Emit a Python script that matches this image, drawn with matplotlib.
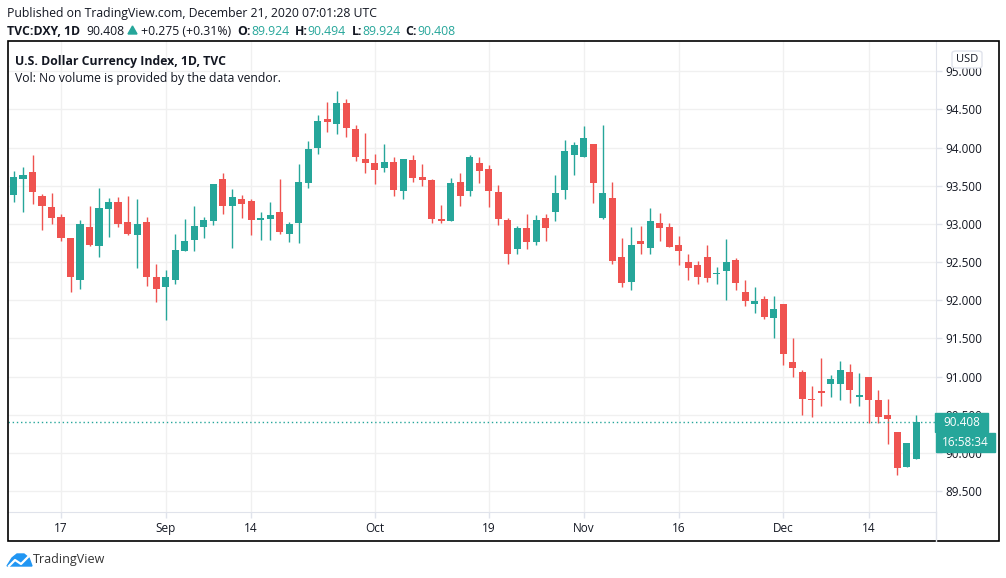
import pandas as pd
import matplotlib
matplotlib.use("Agg")
import matplotlib.pyplot as plt
from matplotlib.patches import Rectangle, FancyBboxPatch, Polygon
from matplotlib.lines import Line2D

# daily DXY candles, Aug 7 .. Dec 21 2020 (weekdays)
dates = pd.bdate_range("2020-08-07", "2020-12-21")

opens = [92.81, 93.38, 93.59, 93.68, 93.36, 93.22, 93.09, 92.82, 92.27, 92.96,
         92.71, 93.19, 93.29, 93.02, 92.85, 93.02, 92.31, 92.18, 92.27, 92.65,
         92.79, 92.96, 93.04, 93.59, 93.23, 93.33, 93.30, 93.05, 93.07, 93.15,
         92.87, 93.01, 93.54, 93.99, 94.37, 94.31, 94.58, 94.24, 93.85, 93.80,
         93.73, 93.81, 93.43, 93.84, 93.62, 93.57, 93.07, 93.04, 93.55, 93.43,
         93.80, 93.72, 93.42, 93.05, 92.67, 92.94, 92.76, 93.08, 93.15, 93.45,
         93.90, 93.88, 94.04, 93.08, 93.34, 92.57, 92.24, 92.77, 92.69, 93.01,
         92.96, 92.73, 92.50, 92.46, 92.57, 92.34, 92.39, 92.53, 92.11, 91.95,
         92.02, 91.77, 91.95, 91.19, 91.06, 90.71, 90.81, 90.90, 90.91, 91.06,
         90.73, 90.99, 90.70, 90.50, 90.28, 89.82, 89.924]
highs = [93.48, 93.69, 93.74, 93.90, 93.39, 93.40, 93.13, 92.82, 93.05, 93.23,
         93.47, 93.34, 93.35, 93.36, 93.33, 93.09, 92.48, 92.40, 92.87, 93.06,
         93.23, 93.09, 93.52, 93.67, 93.46, 93.38, 93.33, 93.15, 93.29, 93.59,
         93.02, 93.79, 94.09, 94.43, 94.60, 94.74, 94.64, 94.30, 94.19, 93.92,
         94.04, 93.88, 93.85, 93.90, 93.79, 93.59, 93.25, 93.60, 93.67, 93.90,
         93.87, 93.77, 93.51, 93.08, 92.97, 93.13, 93.12, 93.13, 93.64, 94.10,
         94.07, 94.28, 94.04, 94.30, 93.55, 92.82, 92.96, 92.97, 93.21, 93.14,
         93.01, 92.84, 92.61, 92.52, 92.73, 92.44, 92.80, 92.56, 92.27, 92.18,
         92.05, 92.06, 91.95, 91.51, 91.09, 90.88, 91.25, 91.02, 91.21, 91.16,
         91.05, 90.99, 90.83, 90.71, 90.28, 90.13, 90.494]
lows = [92.72, 93.29, 93.16, 93.26, 92.92, 93.00, 92.77, 92.11, 92.15, 92.71,
        92.57, 92.83, 92.96, 92.85, 92.42, 92.19, 91.98, 91.74, 92.21, 92.65,
        92.65, 92.81, 92.99, 93.13, 92.69, 93.08, 92.86, 92.79, 92.79, 92.87,
        92.76, 92.75, 93.47, 93.92, 94.20, 94.18, 94.14, 93.82, 93.66, 93.52,
        93.68, 93.37, 93.33, 93.55, 93.49, 93.01, 93.01, 93.04, 93.24, 93.36,
        93.53, 93.22, 92.99, 92.47, 92.60, 92.67, 92.73, 92.78, 93.04, 93.33,
        93.64, 93.88, 93.28, 93.07, 92.48, 92.18, 92.13, 92.60, 92.61, 92.77,
        92.70, 92.46, 92.26, 92.21, 92.24, 92.21, 92.01, 92.13, 91.92, 91.84,
        91.75, 91.50, 91.15, 90.99, 90.50, 90.47, 90.61, 90.74, 90.69, 90.66,
        90.61, 90.40, 90.40, 90.12, 89.71, 89.82, 89.924]
closes = [93.39, 93.61, 93.64, 93.42, 93.23, 93.08, 92.82, 92.31, 93.00, 92.72,
          93.21, 93.29, 93.00, 92.87, 93.00, 92.30, 92.15, 92.31, 92.66, 92.78,
          92.97, 93.05, 93.52, 93.24, 93.35, 93.26, 93.05, 93.08, 93.11, 92.90,
          93.00, 93.55, 93.98, 94.35, 94.33, 94.58, 94.26, 93.87, 93.80, 93.71,
          93.81, 93.44, 93.85, 93.60, 93.57, 93.06, 93.04, 93.54, 93.37, 93.87,
          93.69, 93.43, 93.06, 92.60, 92.95, 92.76, 93.05, 92.94, 93.40, 93.95,
          94.03, 94.12, 93.54, 93.40, 92.52, 92.22, 92.73, 92.74, 93.04, 92.95,
          92.70, 92.64, 92.42, 92.31, 92.29, 92.36, 92.50, 92.22, 91.99, 91.99,
          91.78, 91.88, 91.30, 91.11, 90.71, 90.70, 90.79, 90.97, 91.09, 90.82,
          90.76, 90.70, 90.47, 90.44, 89.81, 90.13, 90.408]

tick_dates = ["2020-08-17", "2020-09-01", "2020-09-14", "2020-10-01", "2020-10-19",
              "2020-11-02", "2020-11-16", "2020-12-01", "2020-12-14"]
tick_labels = ["17", "Sep", "14", "Oct", "19", "Nov", "16", "Dec", "14"]
price_ticks = [89.5, 90.0, 90.5, 91.0, 91.5, 92.0, 92.5, 93.0, 93.5, 94.0, 94.5, 95.0]

last_price = 90.408
countdown = "16:58:34"

UP = "#26a69a"
DOWN = "#ef5350"
TXT = "#131722"
GRID = "#f0f0f0"
SEP = "#e0e3eb"

W, H = 1006, 578
plt.rcParams["font.family"] = ["Open Sans", "DejaVu Sans"]

fig = plt.figure(figsize=(W / 100, H / 100), dpi=100)
fig.patch.set_facecolor("white")


def fx(x):
    return x / W


def fy(y):
    return 1 - y / H


ax = fig.add_axes([fx(8), fy(512), (936 - 8) / W, (512 - 41) / H])

idx = list(range(len(dates)))
colors = [UP if c >= o else DOWN for o, c in zip(opens, closes)]
bottoms = [min(o, c) for o, c in zip(opens, closes)]
heights = [max(abs(c - o), 0.012) for o, c in zip(opens, closes)]

ax.vlines(idx, lows, highs, colors=colors, lw=1.0, zorder=3)
ax.bar(idx, heights, bottom=bottoms, width=0.74, color=colors, zorder=4, linewidth=0)

ax.set_xlim(0.42, 98.1)
ax.set_ylim(89.229, 95.394)

pos = {d: i for i, d in enumerate(dates)}
xt = [pos[pd.Timestamp(d)] for d in tick_dates]
ax.set_xticks(xt)
ax.set_xticklabels(tick_labels)
ax.set_yticks(price_ticks)
ax.set_yticklabels(["%.3f" % p for p in price_ticks])
ax.yaxis.tick_right()
ax.tick_params(axis="y", length=4, width=1, color=SEP, pad=3, labelsize=8.5, labelcolor=TXT)
ax.tick_params(axis="x", length=4, width=1, color=SEP, pad=3, labelsize=8.5, labelcolor=TXT)
ax.grid(True, color=GRID, lw=1, zorder=0)
for s in ("top", "left"):
    ax.spines[s].set_visible(False)
ax.spines["right"].set_color(SEP)
ax.spines["bottom"].set_color(SEP)

# current price line
ax.axhline(last_price, color=UP, lw=1, ls=(0, (1, 2)), zorder=5)

# outer frame and right-axis separator down to the frame
fig.add_artist(Line2D([fx(936), fx(936)], [fy(512), fy(541)], color=SEP, lw=1))
fig.add_artist(Rectangle((fx(8), fy(541)), (999 - 8) / W, (541 - 41) / H,
                         fill=False, edgecolor="black", lw=1.2))

# price / countdown labels (cover the 90.500 tick label as in TradingView)
fig.add_artist(Rectangle((fx(935), fy(432)), 53 / W, 19 / H, color=UP, zorder=10))
fig.text(fx(961.5), fy(422.5), "%.3f" % last_price, color="white", fontsize=8.5,
         ha="center", va="center", zorder=11)
fig.add_artist(Rectangle((fx(936), fy(452)), 59 / W, 19 / H, color=UP, zorder=10))
fig.text(fx(965.5), fy(442.5), countdown, color="white", fontsize=8.5,
         ha="center", va="center", zorder=11)

# USD box
fig.add_artist(FancyBboxPatch((fx(952), fy(68)), 30 / W, 17 / H,
                              boxstyle="round,pad=0,rounding_size=0.004",
                              facecolor="white", edgecolor=SEP, lw=1, zorder=10))
fig.text(fx(967), fy(59.5), "USD", color=TXT, fontsize=8, ha="center", va="center", zorder=11)

# header
fig.text(fx(7), fy(17.3), "Published on TradingView.com, December 21, 2020 07:01:28 UTC",
         fontsize=8.8, color=TXT, va="baseline")
pieces = [
    ("TVC:DXY, 1D", 7, "bold", TXT),
    ("90.408", 86, "normal", TXT),
    ("+0.275 (+0.31%)", 141, "normal", TXT),
    ("O:", 237, "bold", TXT), ("89.924", 251, "normal", UP),
    ("H:", 295, "bold", TXT), ("90.494", 307, "normal", UP),
    ("L:", 352, "bold", TXT), ("89.924", 362, "normal", UP),
    ("C:", 405, "bold", TXT), ("90.408", 417, "normal", UP),
]
for s, x, w, c in pieces:
    fig.text(fx(x), fy(34.7), s, fontsize=8.8, fontweight=w, color=c, va="baseline")
fig.add_artist(Polygon([(fx(128), fy(34)), (fx(137), fy(34)), (fx(132.5), fy(26))],
                       closed=True, color=UP))

fig.text(fx(15), fy(65.3), "U.S. Dollar Currency Index, 1D, TVC", fontsize=8.8,
         fontweight="bold", color=TXT, va="baseline")
fig.text(fx(15), fy(81.7), "Vol: No volume is provided by the data vendor.",
         fontsize=8.8, color=TXT, va="baseline")

# TradingView logo + name
blue = "#2196f3"
fig.add_artist(Polygon([(fx(7), fy(566)), (fx(12), fy(558)), (fx(17), fy(554)),
                        (fx(24), fy(554)), (fx(29), fy(558)), (fx(32), fy(566))],
                       closed=True, color=blue))
fig.add_artist(Line2D([fx(9), fx(15), fx(21), fx(28)], [fy(566), fy(560), fy(564), fy(557)],
                      color="white", lw=1.6))
fig.text(fx(33), fy(560), "TradingView", fontsize=9, color="#333333", va="center")

fig.savefig("out.png", dpi=100)
